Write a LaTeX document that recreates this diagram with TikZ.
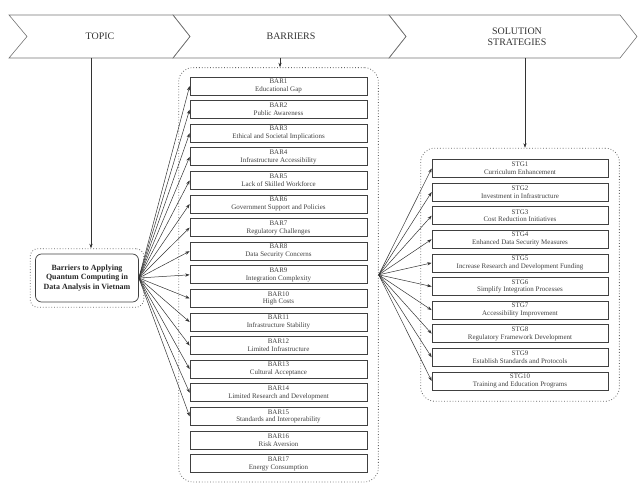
\documentclass[tikz,border=0pt]{standalone}
\usepackage{fontspec}
\setmainfont{Liberation Serif}
\usetikzlibrary{arrows.meta,fit}
\tikzset{
  headbar/.style={draw=black!55, line width=0.6pt},
  headtext/.style={font=\fontsize{10}{11.5}\selectfont, text=black!80, align=center},
  itembox/.style={draw=black!75, line width=0.7pt, minimum height=18bp, inner sep=0pt,
    align=center, font=\fontsize{7}{7.8}\selectfont, text=black!75},
  groupbox/.style={draw=black!60, dotted, thick, rounded corners=14bp},
  link/.style={draw=black!80, line width=0.5pt, -{Stealth[length=4.5bp,width=3.2bp]}},
}
\begin{document}
\begin{tikzpicture}[x=1bp,y=-1bp]
\useasboundingbox (0,0) rectangle (638,485);
% header chevrons
\draw[headbar] (9,15) -- (173,15) -- (190,36.5) -- (173,58) -- (9,58) -- (27,36.5) -- cycle;
\draw[headbar] (173,15) -- (389,15) -- (406,36.5) -- (389,58) -- (173,58) -- (190,36.5) -- cycle;
\draw[headbar] (389,15) -- (620,15) -- (637,36.5) -- (620,58) -- (389,58) -- (406,36.5) -- cycle;
\node[headtext] (toptitle) at (100,36.5) {TOPIC};
\node[headtext] (bartitle) at (291,36.5) {BARRIERS};
\node[headtext] (stgtitle) at (517,36.5) {SOLUTION\\STRATEGIES};
\coordinate (h1) at (91,58);
\coordinate (h2) at (280,58);
\coordinate (h3) at (525,58);

% topic
\node[draw=black!75, line width=0.7pt, rounded corners=6bp, minimum width=103bp, minimum height=48bp,
  align=center, font=\fontsize{8}{9.6}\selectfont\bfseries, text=black!85] (topicin) at (87,278)
  {Barriers to Applying\\Quantum Computing in\\Data Analysis in Vietnam};
\node[groupbox, rounded corners=8bp, fit=(topicin), inner sep=5bp] (topic) {};

% barriers
\foreach \n/\t in {1/Educational Gap, 2/Public Awareness, 3/Ethical and Societal Implications,
  4/Infrastructure Accessibility, 5/Lack of Skilled Workforce, 6/Government Support and Policies,
  7/Regulatory Challenges, 8/Data Security Concerns, 9/Integration Complexity, 10/High Costs,
  11/Infrastructure Stability, 12/Limited Infrastructure, 13/Cultural Acceptance,
  14/Limited Research and Development, 15/Standards and Interoperability, 16/Risk Aversion,
  17/Energy Consumption}
  \node[itembox, minimum width=177bp] (bar\n) at (278.5,{86+(\n-1)*23.6}) {BAR\n\\\t};
\node[groupbox, fit=(bar1)(bar17), inner xsep=11bp, inner ysep=9bp] (bars) {};

% strategies
\foreach \n/\t in {1/Curriculum Enhancement, 2/Investment in Infrastructure, 3/Cost Reduction Initiatives,
  4/Enhanced Data Security Measures, 5/Increase Research and Development Funding,
  6/Simplify Integration Processes, 7/Accessibility Improvement, 8/Regulatory Framework Development,
  9/Establish Standards and Protocols, 10/Training and Education Programs}
  \node[itembox, minimum width=176bp] (stg\n) at (520,{168.5+(\n-1)*23.6}) {STG\n\\\t};
\node[groupbox, fit=(stg1)(stg10), inner xsep=11bp, inner ysep=11bp] (stgs) {};

% connectors
\draw[link] (h1) -- (h1 |- topic.north);
\draw[link] (h2) -- (h2 |- bars.north);
\draw[link] (h3) -- (h3 |- stgs.north);
\foreach \i in {1,...,15}
  \draw[link] (topicin.east) -- (bar\i.west);
\foreach \i in {1,...,10}
  \draw[link] (bars.east) -- (stg\i.west);
\end{tikzpicture}
\end{document}
